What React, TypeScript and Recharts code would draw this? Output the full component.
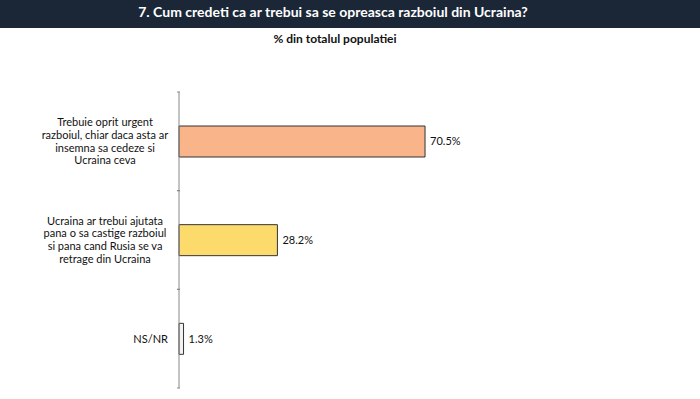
import React from 'react';
import { BarChart, Bar, XAxis, YAxis, Cell, LabelList } from 'recharts';

const categories = [
    'Trebuie oprit urgent\nrazboiul, chiar daca asta ar\ninsemna sa cedeze si\nUcraina ceva',
    'Ucraina ar trebui ajutata\npana o sa castige razboiul\nsi pana cand Rusia se va\nretrage din Ucraina',
    'NS/NR',
];
const values = [70.5, 28.2, 1.3];
const barColors = ['#f9b489', '#fcdb6c', '#f2f2f2'];

const title = '7. Cum credeti ca ar trebui sa se opreasca razboiul din Ucraina?';
const subtitle = '% din totalul populatiei';

const data = categories.map((name, i) => ({ name, value: values[i] }));

const FONT = 'Lato, "Open Sans", sans-serif';

// multi-line labels are centred in a block that is right-aligned to the axis
const CategoryTick = (props: any) => {
    const { x, y, payload } = props;
    const lines: string[] = String(payload.value).split('\n');
    const half = payload.offset || 0;
    const lh = 12.8;
    const startY = y - ((lines.length - 1) * lh) / 2;
    const single = lines.length === 1;
    return (
        <g>
            <line x1={x + 6} x2={x + 9} y1={y - half} y2={y - half} stroke="#888" />
            <line x1={x + 6} x2={x + 9} y1={y + half} y2={y + half} stroke="#888" />
            <text textAnchor={single ? 'end' : 'middle'} fontSize={11} fontFamily={FONT} fill="#111">
                {lines.map((l, i) => (
                    <tspan key={i} x={single ? x - 3 : x - 66} y={startY + i * lh} dy="0.35em">{l}</tspan>
                ))}
            </text>
        </g>
    );
};

const App: React.FC = () => {
    return (
        <div style={{ position: 'absolute', left: 0, top: 0, width: 700, height: 399, background: '#fff' }}>
            <div style={{
                position: 'absolute', left: 0, top: 0, width: 700, height: 28,
                background: '#1b2737'
            }} />
            <div style={{
                position: 'absolute', left: 0, top: 0, width: 666, height: 28,
                color: '#fff', fontFamily: FONT, fontWeight: 700,
                fontSize: 14, lineHeight: '24px', textAlign: 'center'
            }}>
                {title}
            </div>
            <div style={{
                position: 'absolute', left: 0, top: 31, width: 670, textAlign: 'center',
                fontFamily: FONT, fontWeight: 700, fontSize: 12, color: '#111'
            }}>
                {subtitle}
            </div>
            <div style={{ position: 'absolute', left: 0, top: 0 }}>
                <BarChart
                    width={700}
                    height={399}
                    data={data}
                    layout="vertical"
                    margin={{ top: 92, right: 172, bottom: 11, left: 0 }}
                >
                    <XAxis type="number" domain={[0, 100]} hide />
                    <YAxis
                        type="category"
                        dataKey="name"
                        width={179}
                        axisLine={{ stroke: '#888' }}
                        tickLine={false}
                        tick={<CategoryTick />}
                        interval={0}
                    />
                    <Bar dataKey="value" barSize={31} stroke="#333" strokeWidth={1} isAnimationActive={false}>
                        {data.map((d, i) => (
                            <Cell key={d.name} fill={barColors[i]} />
                        ))}
                        <LabelList
                            dataKey="value"
                            position="right"
                            offset={5}
                            formatter={(v: any) => `${Number(v).toFixed(1)}%`}
                            style={{ fontSize: 11, fontFamily: FONT, fill: '#111' }}
                        />
                    </Bar>
                </BarChart>
            </div>
        </div>
    );
};

export default App;
